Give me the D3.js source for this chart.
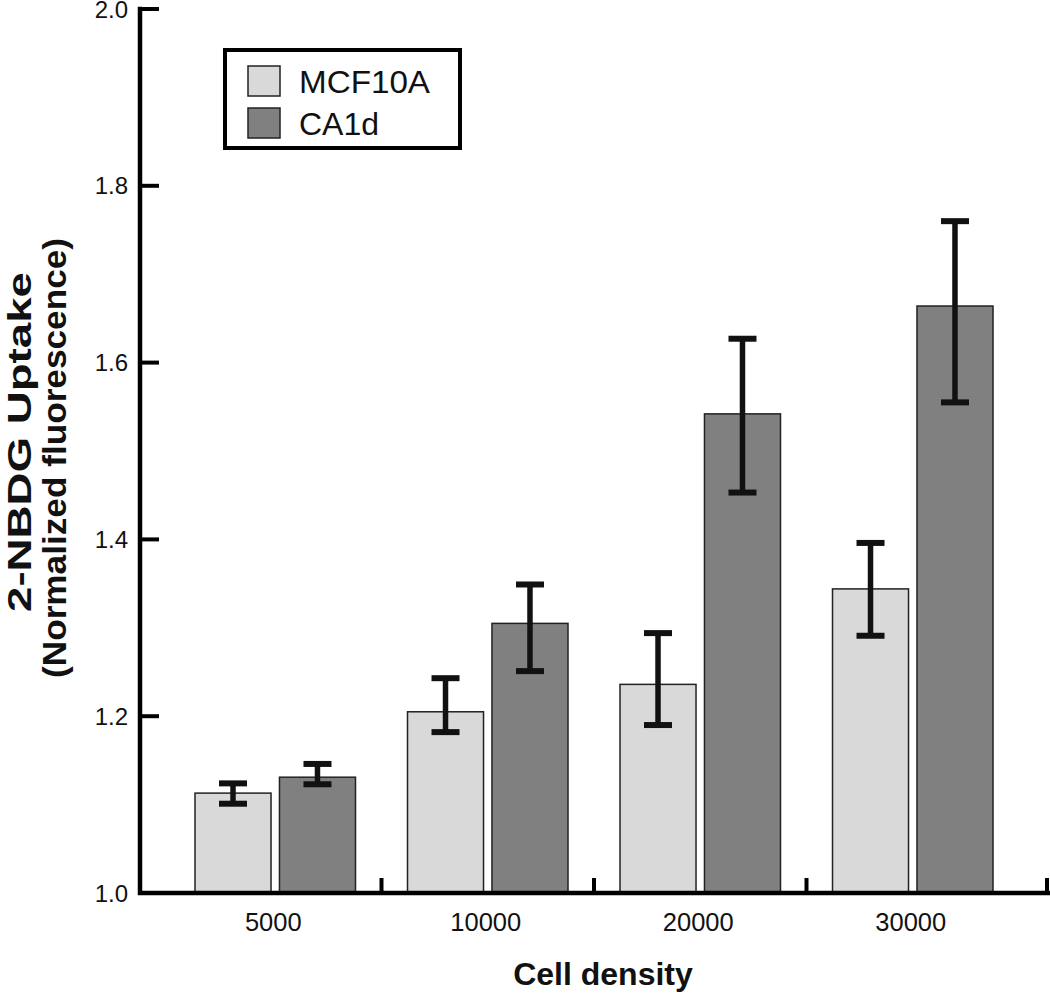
<!DOCTYPE html>
<html>
<head>
<meta charset="utf-8">
<script src="https://cdn.jsdelivr.net/npm/d3@7"></script>
<style>
  html, body { margin: 0; padding: 0; background: #fff; }
  svg { display: block; font-family: "Liberation Sans", Arial, Helvetica, sans-serif; }
</style>
</head>
<body>
<svg id="chart" width="1050" height="993"></svg>
<script>
// ---- data ----
const categories = ["5000", "10000", "20000", "30000"];
const seriesNames = ["MCF10A", "CA1d"];
const mcf10aValues = [1.113, 1.205, 1.236, 1.344];
const mcf10aUpper  = [1.124, 1.243, 1.294, 1.396];
const mcf10aLower  = [1.101, 1.182, 1.190, 1.291];
const ca1dValues   = [1.131, 1.305, 1.542, 1.664];
const ca1dUpper    = [1.146, 1.349, 1.627, 1.760];
const ca1dLower    = [1.123, 1.251, 1.453, 1.555];
const yTicks = [1.0, 1.2, 1.4, 1.6, 1.8, 2.0];
const seriesColors = ["#d9d9d9", "#808080"];

const series = [
  { name: seriesNames[0], values: mcf10aValues, upper: mcf10aUpper, lower: mcf10aLower, color: seriesColors[0] },
  { name: seriesNames[1], values: ca1dValues, upper: ca1dUpper, lower: ca1dLower, color: seriesColors[1] }
];

const svg = d3.select("#chart");

// ---- scales ----
const axisLeft = 140, axisRight = 1048, axisTop = 9, axisBottom = 893;
const y = d3.scaleLinear().domain([1.0, 2.0]).range([axisBottom, axisTop]);
const x0 = d3.scaleBand().domain(categories).range([169, 1019]).paddingInner(0).paddingOuter(0);
const x1 = d3.scaleBand().domain(seriesNames).range([26, x0.bandwidth() - 26]).paddingInner(0.1);

// ---- bars ----
const groups = svg.append("g").selectAll("g")
  .data(categories)
  .join("g")
  .attr("transform", d => `translate(${x0(d)},0)`);

groups.selectAll("rect")
  .data((c, i) => series.map(s => ({ s, v: s.values[i] })))
  .join("rect")
  .attr("x", d => x1(d.s.name))
  .attr("width", x1.bandwidth())
  .attr("y", d => y(d.v))
  .attr("height", d => y(1.0) - y(d.v))
  .attr("fill", d => d.s.color)
  .attr("stroke", "#222")
  .attr("stroke-width", 1.5);

// ---- error bars ----
const eb = groups.selectAll("g.err")
  .data((c, i) => series.map(s => ({ s, hi: s.upper[i], lo: s.lower[i] })))
  .join("g")
  .attr("class", "err")
  .attr("transform", d => `translate(${x1(d.s.name) + x1.bandwidth() / 2},0)`)
  .attr("stroke", "#111");

eb.append("line").attr("x1", 0).attr("x2", 0)
  .attr("y1", d => y(d.hi)).attr("y2", d => y(d.lo)).attr("stroke-width", 5.5);
eb.append("line").attr("x1", -14).attr("x2", 14)
  .attr("y1", d => y(d.hi)).attr("y2", d => y(d.hi)).attr("stroke-width", 6);
eb.append("line").attr("x1", -14).attr("x2", 14)
  .attr("y1", d => y(d.lo)).attr("y2", d => y(d.lo)).attr("stroke-width", 6);

// ---- axes ----
const axG = svg.append("g").attr("stroke", "#000").attr("stroke-width", 4.5).attr("fill", "none");
axG.append("path").attr("d", `M${axisLeft},${axisTop}V${axisBottom}H${axisRight}`).attr("stroke-linecap", "square");

// y ticks (inward)
axG.selectAll("line.yt").data(yTicks).join("line")
  .attr("stroke-width", 4)
  .attr("x1", axisLeft).attr("x2", axisLeft + 19)
  .attr("y1", d => y(d)).attr("y2", d => y(d));

// x ticks (group boundaries, pointing up)
const xBoundaries = categories.slice(1).map(c => x0(c)).concat([axisRight - 1]);
axG.selectAll("line.xt").data(xBoundaries).join("line")
  .attr("stroke-width", 4)
  .attr("x1", d => d).attr("x2", d => d)
  .attr("y1", axisBottom).attr("y2", axisBottom - 15);

// y tick labels
svg.append("g").selectAll("text").data(yTicks).join("text")
  .attr("x", 128).attr("y", d => y(d))
  .attr("dy", "0.36em")
  .attr("text-anchor", "end")
  .attr("font-size", 24)
  .attr("fill", "#111")
  .text(d => d3.format(".1f")(d));

// x tick labels
svg.append("g").selectAll("text").data(categories).join("text")
  .attr("x", d => x0(d) + x0.bandwidth() / 2 - 2)
  .attr("y", 931)
  .attr("text-anchor", "middle")
  .attr("font-size", 25.5)
  .attr("fill", "#111")
  .text(d => d);

// axis titles
svg.append("text")
  .attr("x", 603).attr("y", 985)
  .attr("text-anchor", "middle")
  .attr("font-size", 32).attr("font-weight", "bold")
  .attr("fill", "#111")
  .text("Cell density");

svg.append("text")
  .attr("transform", "translate(31,442) rotate(-90)")
  .attr("text-anchor", "middle")
  .attr("font-size", 33).attr("font-weight", "bold")
  .attr("fill", "#111")
  .attr("textLength", 340).attr("lengthAdjust", "spacingAndGlyphs")
  .text("2-NBDG Uptake");
svg.append("text")
  .attr("transform", "translate(66,458) rotate(-90)")
  .attr("text-anchor", "middle")
  .attr("font-size", 33).attr("font-weight", "bold")
  .attr("fill", "#111")
  .attr("textLength", 440).attr("lengthAdjust", "spacingAndGlyphs")
  .text("(Normalized fluorescence)");

// ---- legend ----
const lg = svg.append("g");
lg.append("rect").attr("x", 225).attr("y", 50).attr("width", 235).attr("height", 98)
  .attr("fill", "#fff").attr("stroke", "#000").attr("stroke-width", 4);
const li = lg.selectAll("g.li").data(series).join("g")
  .attr("transform", (d, i) => `translate(248,${66 + i * 42})`);
li.append("rect").attr("width", 32).attr("height", 30)
  .attr("fill", d => d.color).attr("stroke", "#222").attr("stroke-width", 1.5);
li.append("text").attr("x", 51).attr("y", 27)
  .attr("font-size", 32).attr("fill", "#111")
  .attr("textLength", 131).attr("lengthAdjust", "spacingAndGlyphs")
  .text(d => d.name)
  .attr("textLength", d => d.name === "MCF10A" ? 131 : null);
</script>
</body>
</html>
